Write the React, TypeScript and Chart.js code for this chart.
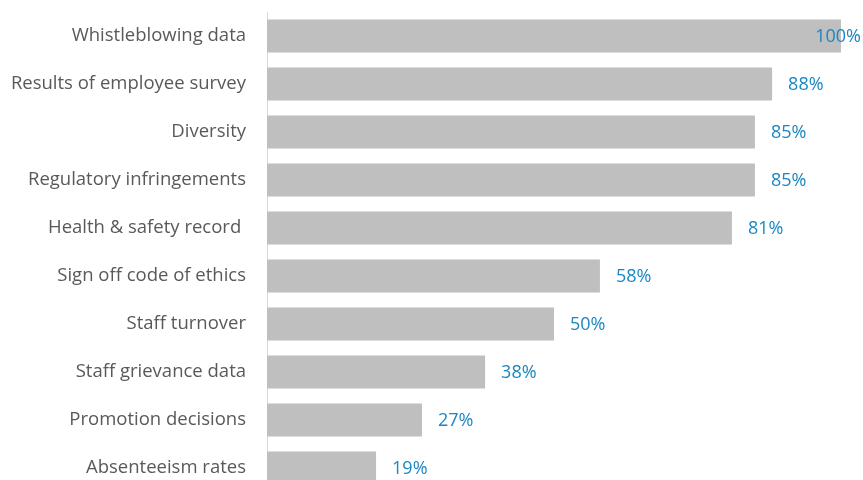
import React, { useEffect, useRef } from "react";
import { Chart, registerables } from "chart.js";

Chart.register(...registerables);

const categories = [
  "Whistleblowing data",
  "Results of employee survey",
  "Diversity",
  "Regulatory infringements",
  "Health & safety record ",
  "Sign off code of ethics",
  "Staff turnover",
  "Staff grievance data",
  "Promotion decisions",
  "Absenteeism rates",
];
const values = [100, 88, 85, 85, 81, 58, 50, 38, 27, 19];

const FONT = "'Open Sans', Lato, sans-serif";

const valueLabels = {
  id: "valueLabels",
  afterDatasetsDraw(chart: any) {
    const ctx = chart.ctx;
    const meta = chart.getDatasetMeta(0);
    ctx.save();
    ctx.font = `18px ${FONT}`;
    ctx.fillStyle = "#1a87c2";
    ctx.textBaseline = "middle";
    ctx.textAlign = "left";
    meta.data.forEach((bar: any, i: number) => {
      const txt = `${values[i]}%`;
      const w = ctx.measureText(txt).width;
      let x = bar.x + 16;
      if (x + w > chart.width - 2) x = chart.width - 2 - w;
      ctx.fillText(txt, x, bar.y + 1);
    });
    ctx.restore();
  },
};

export default function App() {
  const ref = useRef<HTMLCanvasElement | null>(null);
  useEffect(() => {
    if (!ref.current) return;
    const chart = new Chart(ref.current, {
      type: "bar",
      data: {
        labels: categories,
        datasets: [
          {
            data: values,
            backgroundColor: "#bfbfbf",
            borderWidth: 0,
            barPercentage: 0.69,
            categoryPercentage: 1,
          },
        ],
      },
      options: {
        indexAxis: "y",
        animation: false,
        responsive: false,
        maintainAspectRatio: false,
        layout: { padding: { top: 12, right: 22, bottom: 0, left: 0 } },
        plugins: { legend: { display: false }, tooltip: { enabled: false } },
        scales: {
          x: { display: false, min: 0, max: 100 },
          y: {
            afterFit(scale: any) {
              scale.width = 267;
              scale.paddingTop = 0;
              scale.paddingBottom = 0;
            },
            grid: { display: false, drawTicks: false },
            border: { display: true, color: "#d9d9d9", width: 1 },
            ticks: {
              padding: 21,
              color: "#595959",
              font: { family: FONT, size: 18.5 },
            },
          },
        },
      },
      plugins: [valueLabels],
    });
    return () => chart.destroy();
  }, []);
  return (
    <div style={{ position: "absolute", left: 0, top: 0, width: 863, height: 492 }}>
      <canvas ref={ref} width={863} height={492} style={{ width: 863, height: 492 }} />
    </div>
  );
}
